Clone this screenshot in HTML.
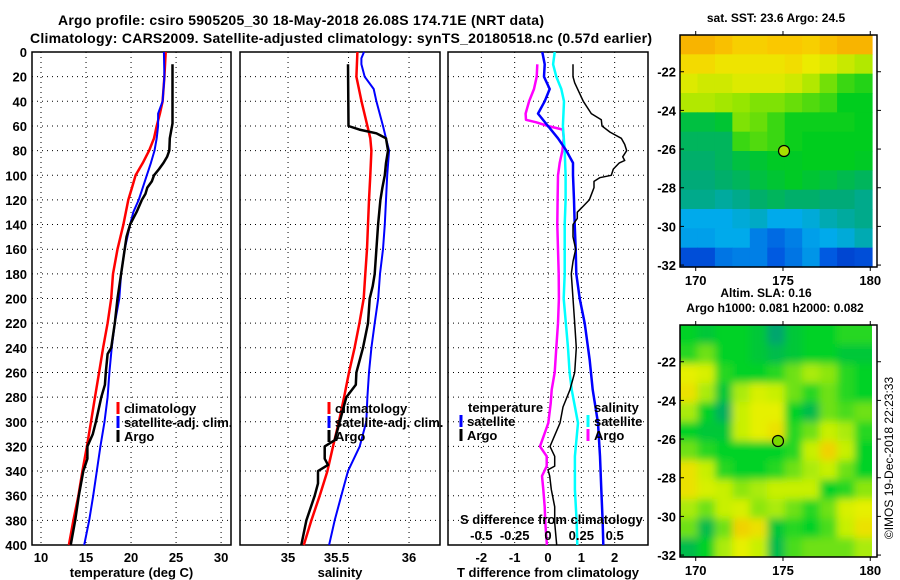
<!DOCTYPE html>
<html><head><meta charset="utf-8"><style>
html,body{margin:0;padding:0;background:#fff;}
svg{display:block;font-family:"Liberation Sans",sans-serif;font-weight:bold;}
</style></head><body>
<svg id="fig" width="900" height="580" viewBox="0 0 900 580">
<defs>
<filter id="blur" x="0" y="0" width="1" height="1"><feGaussianBlur stdDeviation="4"/></filter>
<clipPath id="clipMap2"><rect x="680" y="325" width="192" height="232"/></clipPath>
</defs>
<text x="301" y="25" font-size="14" text-anchor="middle" textLength="486">Argo profile: csiro 5905205_30 18-May-2018 26.08S 174.71E (NRT data)</text>
<text x="341" y="43" font-size="14" text-anchor="middle" textLength="622">Climatology: CARS2009. Satellite-adjusted climatology: synTS_20180518.nc (0.57d earlier)</text>
<g id="g"></g>
</svg>
<script>
// ---- profile data (depth in dbar) ----
const tempClimDepth = [0,20,40,50,60,70,80,90,100,110,120,140,160,180,200,220,240,260,280,300,320,340,360,380,400];
const tempClimVals  = [23.85,23.7,23.5,23.2,22.85,22.55,22.0,21.3,20.5,20.1,19.7,19.15,18.5,18.0,17.8,17.4,16.9,16.45,16.0,15.55,15.1,14.6,14.15,13.6,13.1];
const tempSatDepth = [0,20,40,50,60,70,80,90,100,110,120,130,140,160,180,200,220,240,260,280,300,320,340,360,380,400];
const tempSatVals  = [23.65,23.7,23.5,23.0,23.0,22.85,22.6,22.2,21.75,21.3,20.85,20.25,19.9,19.3,18.9,18.7,18.2,17.85,17.6,17.4,17.05,16.6,16.2,15.8,15.35,14.8];
const tempArgoDepth = [10,20,40,58,62,70,80,85,90,95,100,105,110,115,120,130,140,150,160,180,200,220,240,245,260,270,280,300,310,320,330,340,360,380,400];
const tempArgoVals  = [24.6,24.6,24.6,24.6,24.5,24.3,24.25,24.0,23.6,23.1,22.55,22.3,21.8,21.6,21.2,20.6,19.9,19.5,19.3,18.9,18.5,18.2,17.8,17.4,17.2,17.1,16.7,16.1,15.75,15.15,15.15,14.7,14.2,13.8,13.3];

const salClimDepth = [0,20,40,60,70,80,100,120,140,160,180,200,220,240,260,280,300,320,340,360,380,400];
const salClimVals  = [35.573,35.565,35.607,35.656,35.68,35.689,35.68,35.669,35.661,35.653,35.639,35.625,35.59,35.55,35.504,35.463,35.42,35.372,35.325,35.262,35.193,35.13];
const salSatDepth = [0,5,10,20,30,40,60,70,80,100,120,140,160,180,200,220,240,260,280,300,320,340,360,380,400];
const salSatVals  = [35.628,35.606,35.606,35.634,35.708,35.73,35.785,35.81,35.835,35.82,35.81,35.8,35.785,35.76,35.745,35.716,35.689,35.669,35.656,35.647,35.592,35.496,35.44,35.386,35.339];
const salArgoDepth = [10,60,63,66,70,80,90,100,110,120,140,160,180,190,200,220,240,260,270,280,300,315,320,330,335,340,350,360,380,400];
const salArgoVals  = [35.496,35.5,35.59,35.73,35.81,35.826,35.81,35.8,35.78,35.763,35.744,35.73,35.716,35.70,35.675,35.661,35.62,35.565,35.56,35.482,35.427,35.386,35.303,35.303,35.33,35.248,35.248,35.22,35.152,35.11];

const dTSatDepth = [0,10,20,30,40,50,60,70,80,90,100,120,140,160,180,200,220,250,274,301,328,355,382,400];
const dTSatVals  = [-0.17,-0.1,-0.12,0.05,-0.1,-0.3,0.0,0.3,0.55,0.75,0.75,0.78,0.8,0.83,0.85,0.95,1.1,1.25,1.34,1.5,1.56,1.6,1.64,1.66];
const dTArgoDepth = [10,20,25,40,50,55,60,65,70,75,80,85,88,90,95,100,102,105,110,115,120,125,130,135,140,150,160,170,180,200,220,240,260,274,288,301,320,328,336,339,344,355,369,382,400];
const dTArgoVals  = [0.75,0.75,0.8,1.06,1.3,1.6,1.62,1.86,2.2,2.3,2.36,2.24,2.3,2.14,1.96,1.9,1.55,1.38,1.38,1.31,1.24,1.06,0.88,0.88,0.75,0.75,0.83,0.75,0.7,0.75,0.8,0.85,0.8,0.66,0.45,0.36,0.06,0.2,0.2,0.0,0.05,0.1,0.2,0.2,0.26];
const dSSatDepth = [0,10,20,30,40,60,80,100,120,140,160,180,200,240,260,274,301,328,355,382,400];
const dSSatVals  = [0.05,0.038,0.062,0.1,0.12,0.112,0.125,0.132,0.132,0.125,0.125,0.125,0.118,0.15,0.162,0.178,0.225,0.202,0.202,0.215,0.22];
const dSArgoDepth = [10,20,30,40,50,55,57,60,63,70,80,90,100,120,140,160,180,200,220,240,260,274,285,301,320,328,336,344,355,369,382,400];
const dSArgoVals  = [-0.08,-0.085,-0.105,-0.142,-0.168,-0.165,-0.088,0.0,0.112,0.118,0.108,0.088,0.075,0.072,0.07,0.075,0.08,0.082,0.075,0.062,0.05,0.028,0.02,0.002,-0.06,-0.01,-0.01,-0.045,-0.035,-0.025,-0.02,-0.008];

// ---- map data ----
const sstGrid = [
[0.95,0.95,0.92,0.88,0.88,0.9,0.9,0.88,0.92,0.95,0.95],
[0.85,0.85,0.82,0.82,0.82,0.82,0.84,0.8,0.78,0.75,0.72],
[0.78,0.76,0.76,0.78,0.78,0.78,0.76,0.72,0.65,0.6,0.58],
[0.72,0.72,0.7,0.68,0.66,0.66,0.64,0.62,0.6,0.55,0.55],
[0.5,0.5,0.52,0.66,0.64,0.6,0.56,0.56,0.56,0.56,0.55],
[0.46,0.46,0.46,0.6,0.62,0.6,0.56,0.55,0.55,0.55,0.55],
[0.44,0.44,0.46,0.5,0.52,0.54,0.54,0.55,0.55,0.55,0.54],
[0.42,0.42,0.44,0.46,0.5,0.52,0.54,0.52,0.5,0.48,0.46],
[0.4,0.4,0.38,0.4,0.44,0.46,0.44,0.44,0.42,0.42,0.4],
[0.3,0.3,0.3,0.32,0.34,0.3,0.3,0.32,0.36,0.38,0.4],
[0.28,0.28,0.3,0.3,0.22,0.18,0.22,0.28,0.3,0.32,0.36],
[0.12,0.12,0.2,0.22,0.22,0.15,0.2,0.26,0.15,0.1,0.12]];
const slaGrid = [
[0.45,0.4,0.45,0.45,0.4,0.25,0.4,0.45,0.45,0.5,0.5],
[0.5,0.6,0.45,0.45,0.4,0.35,0.4,0.45,0.45,0.4,0.4],
[0.85,0.8,0.5,0.45,0.45,0.5,0.6,0.7,0.65,0.5,0.45],
[0.9,0.7,0.4,0.7,0.8,0.75,0.6,0.5,0.6,0.5,0.45],
[0.7,0.45,0.3,0.75,0.85,0.85,0.45,0.35,0.6,0.55,0.6],
[0.45,0.4,0.4,0.75,0.85,0.9,0.5,0.6,0.75,0.7,0.5],
[0.6,0.5,0.45,0.45,0.45,0.45,0.5,0.75,0.95,0.75,0.45],
[0.9,0.75,0.5,0.45,0.45,0.5,0.6,0.7,0.75,0.6,0.45],
[0.9,0.8,0.75,0.65,0.7,0.75,0.75,0.75,0.45,0.5,0.65],
[0.7,0.6,0.75,0.8,0.65,0.7,0.6,0.5,0.6,0.8,0.85],
[0.6,0.35,0.6,0.95,0.9,0.4,0.5,0.45,0.55,0.75,0.9],
[0.35,0.45,0.7,0.85,0.75,0.35,0.55,0.6,0.6,0.6,0.7]];
const depthTicks = [0,20,40,60,80,100,120,140,160,180,200,220,240,260,280,300,320,340,360,380,400];
const tempTicks = [10,15,20,25,30];
const salTicks = [35,35.5,36];
const dTTicks = [-2,-1,0,1,2];
const dSTicks = [-0.5,-0.25,0,0.25,0.5];
const latTicks = [-22,-24,-26,-28,-30,-32];
const lonTicks = [170,175,180];

const NS='http://www.w3.org/2000/svg';
const G=document.getElementById('g');
function el(tag,attrs,parent){const e=document.createElementNS(NS,tag);for(const k in attrs)e.setAttribute(k,attrs[k]);(parent||G).appendChild(e);return e;}
function txt(x,y,s,size,anchor,parent){const t=el('text',{x:x,y:y,'font-size':size,'text-anchor':anchor||'middle'},parent);t.textContent=s;return t;}

const Y0=52,Y1=545;
const yD=d=>Y0+(d/400)*(Y1-Y0);

function panel(name,x0,x1,vmin,vmax,ticks,tickFmt,xlabel,labelShift){
  const sx=v=>x0+(v-vmin)/(vmax-vmin)*(x1-x0);
  const gp=el('g',{});
  
  
  depthTicks.forEach(d=>{ if(d>0&&d<400){const l=el('line',{x1:x0,x2:x1,y1:yD(d),y2:yD(d),stroke:'#000','stroke-width':1,'stroke-dasharray':'1,4'},gp);
    
    }});
  ticks.forEach((v,i)=>{const x=sx(v);const l=el('line',{x1:x,x2:x,y1:Y0,y2:Y1,stroke:'#000','stroke-width':1,'stroke-dasharray':'1,4'},gp);
    
    
    const sh=labelShift?labelShift(v):0;
    const t=txt(x+sh,562,tickFmt(v),13,'middle',gp);
    
    });
  const fr=el('rect',{x:x0,y:Y0,width:x1-x0,height:Y1-Y0,fill:'none',stroke:'#000','stroke-width':1.5},gp);
  
  
  if(xlabel){const t=txt((x0+x1)/2,577,xlabel,13,'middle',gp);
    
    }
  return {sx,gp};
}
function series(p,depths,vals,color,w,name){
  const pts=depths.map((d,i)=>p.sx(vals[i]).toFixed(1)+','+yD(d).toFixed(1)).join(' ');
  const l=el('polyline',{points:pts,fill:'none',stroke:color,'stroke-width':w,'stroke-linejoin':'round'},p.gp);
  
  
}
function legend(x,y,color,label,parent){
  const l=el('line',{x1:x,x2:x,y1:y-6,y2:y+6,stroke:color,'stroke-width':3},parent);
  
  
  const t=txt(x+6,y+5,label,13,'start',parent);
  
  
}

// Panel 1 temperature
const p1=panel('temperature-panel',32,231,9.0,31.1,tempTicks,v=>String(v),'temperature (deg C)');
depthTicks.forEach(d=>{const t=txt(27,yD(d)+5,String(d),13,'end');
  
  });
series(p1,tempClimDepth,tempClimVals,'#f00',2.5,'temp-climatology-line');
series(p1,tempSatDepth,tempSatVals,'#00f',2,'temp-satellite-line');
series(p1,tempArgoDepth,tempArgoVals,'#000',2.5,'temp-argo-line');
legend(118,408,'#f00','climatology',p1.gp);
legend(118,422,'#00f','satellite-adj. clim.',p1.gp);
legend(118,436,'#000','Argo',p1.gp);

// Panel 2 salinity
const p2=panel('salinity-panel',240,440,34.603,36.256,salTicks,v=>String(v),'salinity',v=>v===35.5?-12:0);
series(p2,salClimDepth,salClimVals,'#f00',2.5,'sal-climatology-line');
series(p2,salSatDepth,salSatVals,'#00f',2,'sal-satellite-line');
series(p2,salArgoDepth,salArgoVals,'#000',2.5,'sal-argo-line');
legend(329,408,'#f00','climatology',p2.gp);
legend(329,422,'#00f','satellite-adj. clim.',p2.gp);
legend(329,436,'#000','Argo',p2.gp);

// Panel 3 differences (T scale -3..3; S scale = T/4)
const p3=panel('difference-panel',448,648,-3,3,dTTicks,v=>String(v),'T difference from climatology');
const p3s={sx:v=>p3.sx(v*4),gp:p3.gp};
series(p3s,dSArgoDepth,dSArgoVals,'#f0f',2.5,'sdiff-argo-line');
series(p3s,dSSatDepth,dSSatVals,'#0ff',2.5,'sdiff-satellite-line');
series(p3,dTSatDepth,dTSatVals,'#00f',2.5,'tdiff-satellite-line');
series(p3,dTArgoDepth,dTArgoVals,'#000',1.5,'tdiff-argo-line');
{const t=txt(468,412,'temperature',13,'start',p3.gp);
 
 
 const t2=txt(594,412,'salinity',13,'start',p3.gp);
 
 }
legend(461,421,'#00f','satellite',p3.gp);
legend(461,435,'#000','Argo',p3.gp);
legend(588,421,'#0ff','satellite',p3.gp);
legend(588,435,'#f0f','Argo',p3.gp);
{const t=txt(460,524,'S difference from climatology',13,'start',p3.gp);
 
 }
dSTicks.forEach(v=>{const t=txt(p3s.sx(v),540,String(v),13,'middle',p3.gp);
  
  });

// ---- maps ----
function lerp(a,b,t){return a.map((v,i)=>Math.round(v+(b[i]-v)*t));}
function cmap(stops,v){for(let i=1;i<stops.length;i++){if(v<=stops[i][0]){const t=(v-stops[i-1][0])/(stops[i][0]-stops[i-1][0]);const c=lerp(stops[i-1][1],stops[i][1],t);return 'rgb('+c.join(',')+')';}}return 'rgb('+stops[stops.length-1][1].join(',')+')';}
const sstStops=[[0,[0,30,180]],[0.15,[0,90,225]],[0.3,[0,170,235]],[0.42,[0,170,120]],[0.55,[0,205,30]],[0.68,[150,230,0]],[0.8,[235,235,0]],[0.9,[250,200,0]],[1,[245,160,0]]];
const slaStops=[[0,[0,140,140]],[0.25,[0,165,110]],[0.45,[0,210,40]],[0.6,[110,225,20]],[0.75,[200,240,0]],[0.85,[230,240,0]],[1,[245,195,0]]];

function map(name,top,bottom,grid,stops,title1,title2,circle,blur){
  const gm=el('g',{});
  
  
  const L=680,R=872,FR=877;
  const lonMin=169.1,lonMax=180.1,latTop=-20.1,latBot=-32.1;
  const sx=lon=>L+(lon-lonMin)/(lonMax-lonMin)*(R-L);
  const sy=lat=>top+(lat-latTop)/(latBot-latTop)*(bottom-top);
  const rows=grid.length,cols=grid[0].length;
  const cg=el('g',blur?{filter:'url(#blur)'}:{},blur?el('g',{'clip-path':'url(#clipMap2)'},gm):gm);
  const cw=(R-L)/cols,ch=(bottom-top)/rows;
  const ex=blur?8:0;
  grid.forEach((row,r)=>row.forEach((v,c)=>{
    let x=L+c*cw,y=top+r*ch,w=cw+0.6,h=ch+0.6;
    if(c===0){x-=ex;w+=ex;} if(c===cols-1)w+=ex; if(r===0){y-=ex;h+=ex;} if(r===rows-1)h+=ex;
    const rc=el('rect',{x:x,y:y,width:w,height:h,fill:cmap(stops,v)},cg);
    
    
  }));
  const fr=el('rect',{x:L,y:top,width:FR-L,height:bottom-top,fill:'none',stroke:'#000','stroke-width':1.5},gm);
  
  
  latTicks.forEach(lat=>{const y=sy(lat);
    el('line',{x1:L,x2:L+4,y1:y,y2:y,stroke:'#000'},gm);el('line',{x1:FR,x2:FR+4,y1:y,y2:y,stroke:'#000'},gm);
    const t=txt(676,y+5,String(lat),13,'end',gm);
    
    });
  lonTicks.forEach(lon=>{const x=sx(lon);
    el('line',{x1:x,x2:x,y1:top,y2:top-4,stroke:'#000'},gm);el('line',{x1:x,x2:x,y1:bottom,y2:bottom+4,stroke:'#000'},gm);
    const t=txt(x,bottom+18,String(lon),13,'middle',gm);
    
    });
  const c=el('circle',{cx:circle[0],cy:circle[1],r:5.5,fill:circle[2],stroke:'#000','stroke-width':1.2},gm);
  
  
  const t1=txt(title2?766:776,title2?top-28:top-13,title1,12,'middle',gm);
  
  
  if(title2){const t2=txt(775,top-13,title2,12,'middle',gm);
    
    }
}
map('sst-map',35,267,sstGrid,sstStops,'sat. SST: 23.6 Argo: 24.5',null,[784,151,'#a8e000'],false);
map('sla-map',325,557,slaGrid,slaStops,'Altim. SLA: 0.16','Argo h1000: 0.081 h2000: 0.082',[778,441,'#7ad800'],true);

const cr=txt(0,0,'\u00A9IMOS 19-Dec-2018 22:23:33',12,'middle');
cr.setAttribute('transform','translate(893,458) rotate(-90)');
cr.setAttribute('font-weight','normal');


</script>
</body></html>
